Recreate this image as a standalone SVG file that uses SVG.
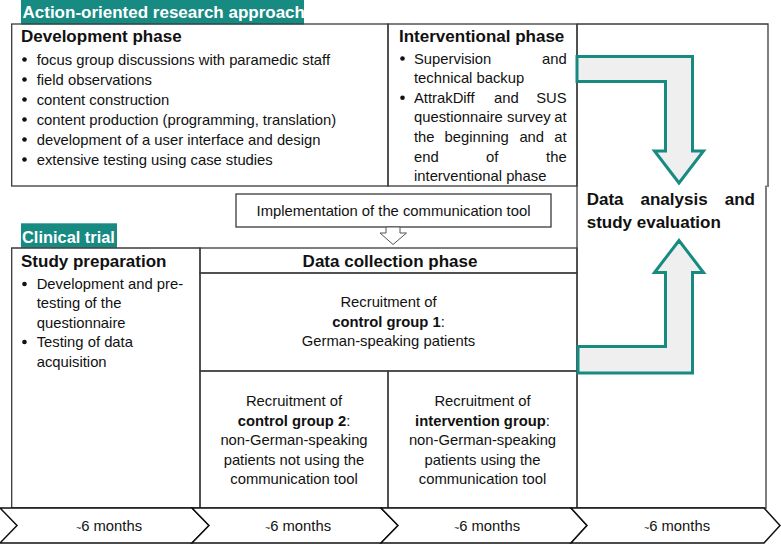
<svg xmlns="http://www.w3.org/2000/svg" width="781" height="544" viewBox="0 0 781 544">
<style>
.box{fill:none;stroke:#3a3a3a;stroke-width:1.3}
.t{font-family:"Liberation Sans",Arial,sans-serif;font-size:14.8px;fill:#111}
.c{text-anchor:middle}
.e{text-anchor:end}
.h{font-family:"Liberation Sans",Arial,sans-serif;font-size:17px;font-weight:bold;fill:#111}
.lbl{font-family:"Liberation Sans",Arial,sans-serif;font-size:17px;font-weight:bold;fill:#fff}
.teal{fill:#178a82}
.arrow{fill:#efefef;stroke:#178a82;stroke-width:3;stroke-linejoin:miter}
.hollow{fill:#fff;stroke:#555;stroke-width:1}
.chev{fill:#fff;stroke:#111;stroke-width:1.5;stroke-linejoin:miter}
.b{font-weight:bold}
.dot{fill:#111}
.tl{font-size:9px}
</style>

<g id="label-action">
  <rect class="teal" x="21" y="0" width="283" height="24.5"/>
  <text class="lbl" x="22.5" y="18">Action-oriented research approach</text>
</g>

<g id="development-phase">
  <rect class="box" x="11.7" y="24" width="376.3" height="162"/>
  <text class="h" x="21" y="42">Development phase</text>
  <circle class="dot" cx="24.5" cy="59.5" r="2.3"/>
  <circle class="dot" cx="24.5" cy="79.5" r="2.3"/>
  <circle class="dot" cx="24.5" cy="99.5" r="2.3"/>
  <circle class="dot" cx="24.5" cy="119.5" r="2.3"/>
  <circle class="dot" cx="24.5" cy="139.5" r="2.3"/>
  <circle class="dot" cx="24.5" cy="159.5" r="2.3"/>
  <text class="t" x="36.7" y="64.5">focus group discussions with paramedic staff</text>
  <text class="t" x="36.7" y="84.5">field observations</text>
  <text class="t" x="36.7" y="104.5">content construction</text>
  <text class="t" x="36.7" y="124.5">content production (programming, translation)</text>
  <text class="t" x="36.7" y="144.5">development of a user interface and design</text>
  <text class="t" x="36.7" y="164.5">extensive testing using case studies</text>
</g>

<g id="interventional-phase">
  <rect class="box" x="388" y="24" width="189" height="162"/>
  <text class="h" x="399" y="42">Interventional phase</text>
  <circle class="dot" cx="402.5" cy="58.5" r="2.3"/>
  <circle class="dot" cx="402.5" cy="97.7" r="2.3"/>
  <text class="t" x="414" y="63.5">Supervision</text>
  <text class="t e" x="566.7" y="63.5">and</text>
  <text class="t" x="414" y="83">technical backup</text>
  <text class="t" x="414" y="102.7">AttrakDiff</text>
  <text class="t" x="494" y="102.7">and</text>
  <text class="t e" x="566.7" y="102.7">SUS</text>
  <text class="t" x="414" y="122.3">questionnaire</text>
  <text class="t" x="507" y="122.3">survey</text>
  <text class="t e" x="566.7" y="122.3">at</text>
  <text class="t" x="414" y="141.9">the</text>
  <text class="t" x="444.6" y="141.9">beginning</text>
  <text class="t" x="519.4" y="141.9">and</text>
  <text class="t e" x="566.7" y="141.9">at</text>
  <text class="t" x="414" y="161.5">end</text>
  <text class="t" x="486" y="161.5">of</text>
  <text class="t e" x="566.7" y="161.5">the</text>
  <text class="t" x="414" y="181">interventional phase</text>
</g>

<g id="data-analysis">
  <path class="box" d="M577,24 H768 V187 M766,185.5 V508 H577 V24"/>
  <text class="h" x="586.7" y="205">Data</text>
  <text class="h" x="640.5" y="205">analysis</text>
  <text class="h e" x="755" y="205">and</text>
  <text class="h" x="586.7" y="228.3">study evaluation</text>
</g>

<g id="implementation">
  <rect class="box" x="236" y="194" width="315" height="33"/>
  <text class="t c" x="393.5" y="216">Implementation of the communication tool</text>
</g>

<g id="label-clinical">
  <rect class="teal" x="21" y="223.3" width="96" height="24.5"/>
  <text class="lbl" x="22" y="243" style="font-size:16.4px">Clinical trial</text>
</g>

<g id="study-preparation">
  <path class="box" d="M200,248 H11.7 V508 H200 Z"/>
  <text class="h" x="21" y="267">Study preparation</text>
  <circle class="dot" cx="24.5" cy="284" r="2.3"/>
  <circle class="dot" cx="24.5" cy="342" r="2.3"/>
  <text class="t" x="36.7" y="289">Development and pre-</text>
  <text class="t" x="36.7" y="308.3">testing of the</text>
  <text class="t" x="36.7" y="327.5">questionnaire</text>
  <text class="t" x="36.7" y="347">Testing of data</text>
  <text class="t" x="36.7" y="366.5">acquisition</text>
</g>

<g id="data-collection-phase">
  <rect class="box" x="200" y="248" width="377" height="25"/>
  <text class="h c" x="390" y="267">Data collection phase</text>
</g>

<g id="control-group-1">
  <rect class="box" x="200" y="273" width="377" height="98"/>
  <text class="t c" x="388.5" y="307">Recruitment of</text>
  <text class="t c" x="388.5" y="326.5"><tspan class="b">control group 1</tspan>:</text>
  <text class="t c" x="388.5" y="346">German-speaking patients</text>
</g>

<g id="control-group-2">
  <rect class="box" x="200" y="371" width="188" height="137"/>
  <text class="t c" x="294" y="406">Recruitment of</text>
  <text class="t c" x="294" y="425.5"><tspan class="b">control group 2</tspan>:</text>
  <text class="t c" x="294" y="445">non-German-speaking</text>
  <text class="t c" x="294" y="464.5">patients not using the</text>
  <text class="t c" x="294" y="484">communication tool</text>
</g>

<g id="intervention-group">
  <rect class="box" x="388" y="371" width="189" height="137"/>
  <text class="t c" x="482.5" y="406">Recruitment of</text>
  <text class="t c" x="482.5" y="425.5"><tspan class="b">intervention group</tspan>:</text>
  <text class="t c" x="482.5" y="445">non-German-speaking</text>
  <text class="t c" x="482.5" y="464.5">patients using the</text>
  <text class="t c" x="482.5" y="484">communication tool</text>
</g>

<g id="timeline">
  <g id="period-1">
    <polygon class="chev" points="0,508 192,508 209,525.5 192,543 0,543 17,525.5"/>
    <text class="t c" x="109" y="530.5"><tspan class="tl">~</tspan>6 months</text>
  </g>
  <g id="period-2">
    <polygon class="chev" points="192,508 381,508 398,525.5 381,543 192,543 209,525.5"/>
    <text class="t c" x="298" y="530.5"><tspan class="tl">~</tspan>6 months</text>
  </g>
  <g id="period-3">
    <polygon class="chev" points="381,508 571,508 587,525.5 571,543 381,543 398,525.5"/>
    <text class="t c" x="487" y="530.5"><tspan class="tl">~</tspan>6 months</text>
  </g>
  <g id="period-4">
    <polygon class="chev" points="571,508 764,508 780,525.5 764,543 571,543 587,525.5"/>
    <text class="t c" x="677" y="530.5"><tspan class="tl">~</tspan>6 months</text>
  </g>
</g>

<g id="connectors">
  <polygon class="arrow" points="577,56.5 692.5,56.5 692.5,151 703.5,151 679,183 654.5,151 665.5,151 665.5,81.5 577,81.5"/>
  <polygon class="arrow" points="578,373 692.5,373 692.5,272.5 703.5,272.5 679,240.5 654.5,272.5 665.5,272.5 665.5,346.5 578,346.5"/>
  <polygon class="hollow" points="386,227 400,227 400,233 406.5,233 393,244.5 380,233 386,233"/>
</g>
</svg>
